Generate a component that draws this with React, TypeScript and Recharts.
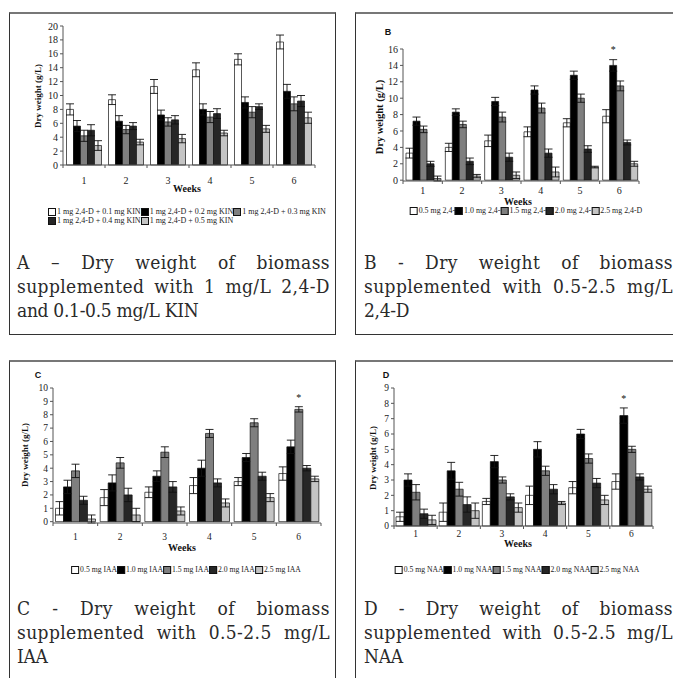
import { BarChart, Bar, XAxis, YAxis, ErrorBar, LabelList } from "recharts";

const weeks = ["1", "2", "3", "4", "5", "6"];
const fills = ["#ffffff", "#000000", "#7f7f7f", "#262626", "#c4c4c4"];

// A - 2,4-D + KIN
const kinNames = [
  "1 mg 2,4-D + 0.1 mg KIN",
  "1 mg 2,4-D + 0.2 mg KIN",
  "1 mg 2,4-D + 0.3 mg KIN",
  "1 mg 2,4-D + 0.4 mg KIN",
  "1 mg 2,4-D + 0.5 mg KIN",
];
const kinMeans = [
  [8.0, 9.4, 11.3, 13.7, 15.2, 17.7],
  [5.6, 6.3, 7.2, 8.0, 9.0, 10.6],
  [4.2, 5.1, 6.2, 6.9, 7.6, 8.8],
  [5.0, 5.6, 6.5, 7.4, 8.4, 9.2],
  [2.8, 3.3, 3.8, 4.6, 5.2, 6.8],
];
const kinErrors = [
  [0.8, 0.7, 1.0, 1.0, 0.8, 1.0],
  [0.8, 0.8, 0.7, 0.8, 0.8, 1.0],
  [0.8, 0.6, 0.6, 0.8, 0.8, 1.0],
  [0.8, 0.5, 0.6, 0.7, 0.4, 0.8],
  [0.7, 0.4, 0.6, 0.4, 0.5, 0.8],
];

// B - 2,4-D
const dNames = ["0.5 mg 2,4-", "1.0 mg 2,4-", "1.5 mg 2,4-", "2.0 mg 2,4-", "2.5 mg 2,4-D"];
const dMeans = [
  [3.3, 4.0, 4.8, 5.9, 7.0, 7.8],
  [7.2, 8.3, 9.6, 11.0, 12.8, 14.0],
  [6.2, 6.8, 7.7, 8.8, 10.0, 11.5],
  [2.0, 2.3, 2.8, 3.3, 3.8, 4.6],
  [0.2, 0.5, 0.6, 1.0, 1.6, 2.0],
];
const dErrors = [
  [0.6, 0.5, 0.7, 0.6, 0.5, 0.8],
  [0.5, 0.4, 0.5, 0.5, 0.5, 0.7],
  [0.4, 0.4, 0.6, 0.6, 0.5, 0.6],
  [0.3, 0.4, 0.5, 0.5, 0.4, 0.3],
  [0.3, 0.2, 0.4, 0.6, 0.1, 0.3],
];

// C - IAA
const iaaNames = ["0.5 mg IAA", "1.0 mg IAA", "1.5 mg IAA", "2.0 mg IAA", "2.5 mg IAA"];
const iaaMeans = [
  [1.0, 1.8, 2.2, 2.7, 3.0, 3.6],
  [2.6, 2.9, 3.4, 4.0, 4.8, 5.6],
  [3.8, 4.4, 5.2, 6.6, 7.4, 8.4],
  [1.6, 2.0, 2.6, 2.9, 3.4, 4.0],
  [0.2, 0.5, 0.8, 1.4, 1.8, 3.2],
];
const iaaErrors = [
  [0.5, 0.6, 0.4, 0.6, 0.3, 0.5],
  [0.5, 0.6, 0.4, 0.6, 0.3, 0.5],
  [0.5, 0.4, 0.4, 0.3, 0.3, 0.2],
  [0.3, 0.5, 0.4, 0.3, 0.3, 0.2],
  [0.3, 0.5, 0.3, 0.3, 0.3, 0.2],
];

// D - NAA
const naaNames = ["0.5 mg NAA", "1.0 mg NAA", "1.5 mg NAA", "2.0 mg NAA", "2.5 mg NAA"];
const naaMeans = [
  [0.6, 0.9, 1.6, 2.0, 2.5, 2.9],
  [3.0, 3.6, 4.2, 5.0, 6.0, 7.2],
  [2.2, 2.4, 3.0, 3.6, 4.4, 5.0],
  [0.8, 1.4, 1.9, 2.4, 2.8, 3.2],
  [0.4, 1.0, 1.2, 1.5, 1.7, 2.4],
];
const naaErrors = [
  [0.3, 0.6, 0.2, 0.6, 0.4, 0.5],
  [0.4, 0.55, 0.4, 0.5, 0.3, 0.5],
  [0.5, 0.45, 0.2, 0.3, 0.3, 0.2],
  [0.3, 0.5, 0.2, 0.3, 0.3, 0.2],
  [0.3, 0.5, 0.3, 0.1, 0.3, 0.2],
];

const kinTicks = [0, 2, 4, 6, 8, 10, 12, 14, 16, 18, 20];
const dTicks = [0, 2, 4, 6, 8, 10, 12, 14, 16];
const iaaTicks = [0, 1, 2, 3, 4, 5, 6, 7, 8, 9, 10];
const naaTicks = [0, 1, 2, 3, 4, 5, 6, 7, 8, 9];

const serif = "'Liberation Serif', 'Times New Roman', serif";
const sans = "'Liberation Sans', Arial, sans-serif";
const captionFont = "'DejaVu Serif Condensed', 'DejaVu Serif', serif";

function buildRows(means: number[][], errors: number[][]) {
  return weeks.map((w, i) => {
    const row: Record<string, any> = { week: w };
    means.forEach((m, s) => {
      row["s" + s] = m[i];
      row["e" + s] = errors[s][i];
    });
    return row;
  });
}

type PanelProps = {
  box: { l: number; t: number };
  plot: { x0: number; x1: number; y0: number; y1: number };
  rows: any[];
  ticks: number[];
  gap: number;
  tickDy: number;
  tickFont: number;
  star?: { series: number; gap: number };
};

function Chart({ box, plot, rows, ticks, gap, tickDy, tickFont, star }: PanelProps) {
  const width = plot.x1 - box.l + 15;
  const height = plot.y1 - box.t + 30;
  const band = (plot.x1 - plot.x0) / weeks.length;

  const renderTick = (props: any) => {
    const { x, y, payload, index } = props;
    return (
      <g>
        <text
          x={x}
          y={y + tickDy}
          textAnchor="middle"
          dominantBaseline="central"
          fontSize={tickFont}
          fontFamily={serif}
          fill="#222"
        >
          {payload.value}
        </text>
        <line x1={x + band / 2} x2={x + band / 2} y1={y} y2={y + 3} stroke="#555" />
        {index === 0 && <line x1={x - band / 2} x2={x - band / 2} y1={y} y2={y + 3} stroke="#555" />}
      </g>
    );
  };

  const renderStar = (props: any) => {
    if (!star || props.index !== weeks.length - 1) return null;
    return (
      <text
        x={props.x + props.width / 2}
        y={props.y - star.gap}
        textAnchor="middle"
        dominantBaseline="central"
        fontSize={10}
        fontFamily={serif}
        fill="#111"
      >
        *
      </text>
    );
  };

  return (
    <div style={{ position: "absolute", left: box.l, top: box.t }}>
      <BarChart
        width={width}
        height={height}
        data={rows}
        margin={{ top: plot.y0 - box.t, right: 15, bottom: 10, left: 0 }}
        barGap={0}
        barCategoryGap={gap}
      >
        <XAxis
          dataKey="week"
          height={20}
          tickLine={false}
          tickSize={0}
          tickMargin={0}
          interval={0}
          axisLine={{ stroke: "#555" }}
          tick={renderTick}
        />
        <YAxis
          width={plot.x0 - box.l}
          domain={[0, ticks[ticks.length - 1]]}
          ticks={ticks}
          interval={0}
          tickSize={3}
          tickMargin={2}
          axisLine={{ stroke: "#555" }}
          tickLine={{ stroke: "#555" }}
          tick={{ fontSize: tickFont, fontFamily: serif, fill: "#222" }}
        />
        {fills.map((f, s) => (
          <Bar key={s} dataKey={"s" + s} fill={f} stroke="#111" strokeWidth={0.7} isAnimationActive={false}>
            <ErrorBar dataKey={"e" + s} width={4} stroke="#111" strokeWidth={0.9} />
            {star && star.series === s && <LabelList dataKey={"s" + s} content={renderStar} />}
          </Bar>
        ))}
      </BarChart>
    </div>
  );
}

function Legend({ names, x, y, size, center }: { names: string[][]; x: number; y: number; size: number; center?: boolean }) {
  let k = 0;
  return (
    <div
      style={{
        position: "absolute",
        left: x,
        top: y,
        transform: center ? "translateX(-50%)" : undefined,
        fontFamily: serif,
        fontSize: size,
        color: "#222",
        whiteSpace: "nowrap",
        lineHeight: "9px",
      }}
    >
      {names.map((line, li) => (
        <div key={li} style={{ display: "flex", alignItems: "center" }}>
          {line.map((n) => {
            const f = fills[k++];
            return (
              <span key={n} style={{ display: "inline-flex", alignItems: "center" }}>
                <span
                  style={{
                    display: "inline-block",
                    width: 6,
                    height: 6,
                    background: f,
                    border: "1px solid #111",
                    marginRight: 1,
                  }}
                />
                {n}
              </span>
            );
          })}
        </div>
      ))}
    </div>
  );
}

function AbsText({ x, y, children, style }: { x: number; y: number; children: any; style?: any }) {
  return (
    <div
      style={{
        position: "absolute",
        left: x,
        top: y,
        transform: "translate(-50%, -50%)",
        whiteSpace: "nowrap",
        ...style,
      }}
    >
      {children}
    </div>
  );
}

function YTitle({ x, y, size }: { x: number; y: number; size: number }) {
  return (
    <AbsText
      x={x}
      y={y}
      style={{
        transform: "translate(-50%, -50%) rotate(-90deg)",
        fontFamily: serif,
        fontWeight: 700,
        fontSize: size,
        color: "#111",
      }}
    >
      Dry weight (g/L)
    </AbsText>
  );
}

function Weeks({ x, y }: { x: number; y: number }) {
  return (
    <AbsText x={x} y={y} style={{ fontFamily: serif, fontWeight: 700, fontSize: 10, color: "#111" }}>
      Weeks
    </AbsText>
  );
}

function Letter({ x, y, c }: { x: number; y: number; c: string }) {
  return (
    <AbsText x={x} y={y} style={{ fontFamily: sans, fontWeight: 700, fontSize: 9, color: "#111" }}>
      {c}
    </AbsText>
  );
}

function Caption({ x, top, width, lines }: { x: number; top: number; width: number; lines: string[] }) {
  return (
    <div
      style={{
        position: "absolute",
        left: x,
        top,
        width,
        fontFamily: captionFont,
        fontStretch: "condensed",
        fontSize: 19,
        color: "#2a2a2a",
        lineHeight: "24px",
      }}
    >
      {lines.map((l, i) =>
        i < lines.length - 1 ? (
          <div
            key={i}
            style={{ display: "flex", justifyContent: "space-between", whiteSpace: "nowrap", letterSpacing: 0.4 }}
          >
            {l.split(" ").map((w, j) => (
              <span key={j}>{w}</span>
            ))}
          </div>
        ) : (
          <div key={i} style={{ whiteSpace: "nowrap", letterSpacing: -0.3 }}>
            {l}
          </div>
        )
      )}
    </div>
  );
}

function Box({ l, t, w, h }: { l: number; t: number; w: number; h: number }) {
  return (
    <div
      style={{
        position: "absolute",
        left: l,
        top: t,
        width: w,
        height: h,
        boxSizing: "border-box",
        border: "1px solid #333",
        borderTop: "2px solid #777",
      }}
    />
  );
}

export default function App() {
  return (
    <div
      style={{
        position: "fixed",
        left: 0,
        top: 0,
        width: 673,
        height: 678,
        overflow: "hidden",
        background: "#fff",
      }}
    >
      <Box l={9} t={12} w={327} h={323} />
      <Box l={355} t={12} w={327} h={323} />
      <Box l={9} t={360} w={327} h={330} />
      <Box l={355} t={360} w={327} h={330} />

      {/* A */}
      <Chart
        box={{ l: 9, t: 12 }}
        plot={{ x0: 63, x1: 315, y0: 26, y1: 165 }}
        rows={buildRows(kinMeans, kinErrors)}
        ticks={kinTicks}
        gap={3.5}
        tickDy={15}
        tickFont={10}
      />
      <YTitle x={38} y={96} size={9} />
      <Weeks x={187} y={188} />
      <Legend names={[kinNames.slice(0, 3), kinNames.slice(3)]} x={48} y={207} size={8} />
      <Caption
        x={17}
        top={250}
        width={313}
        lines={["A – Dry weight of biomass", "supplemented with 1 mg/L 2,4-D", "and 0.1-0.5 mg/L KIN"]}
      />

      {/* B */}
      <Chart
        box={{ l: 355, t: 12 }}
        plot={{ x0: 403, x1: 639, y0: 49, y1: 181 }}
        rows={buildRows(dMeans, dErrors)}
        ticks={dTicks}
        gap={3}
        tickDy={9}
        tickFont={10}
        star={{ series: 1, gap: 16 }}
      />
      <Letter x={388} y={32} c="B" />
      <YTitle x={379} y={117} size={10.5} />
      <Weeks x={518} y={201} />
      <Legend names={[dNames]} x={526} y={206} size={7.9} center />
      <Caption x={364} top={250} width={309} lines={["B - Dry weight of biomass", "supplemented with 0.5-2.5 mg/L", "2,4-D"]} />

      {/* C */}
      <Chart
        box={{ l: 9, t: 360 }}
        plot={{ x0: 53, x1: 321, y0: 388, y1: 523 }}
        rows={buildRows(iaaMeans, iaaErrors)}
        ticks={iaaTicks}
        gap={2.5}
        tickDy={14}
        tickFont={9.5}
        star={{ series: 2, gap: 12 }}
      />
      <Letter x={38} y={375} c="C" />
      <YTitle x={25} y={455} size={9} />
      <Weeks x={182} y={547} />
      <Legend names={[iaaNames]} x={186} y={565} size={7.7} center />
      <Caption x={17} top={596} width={313} lines={["C - Dry weight of biomass", "supplemented with 0.5-2.5 mg/L", "IAA"]} />

      {/* D */}
      <Chart
        box={{ l: 355, t: 360 }}
        plot={{ x0: 394, x1: 653, y0: 388, y1: 526 }}
        rows={buildRows(naaMeans, naaErrors)}
        ticks={naaTicks}
        gap={2}
        tickDy={8}
        tickFont={9.5}
        star={{ series: 1, gap: 17 }}
      />
      <Letter x={386} y={375} c="D" />
      <YTitle x={373} y={458} size={9} />
      <Weeks x={518} y={543} />
      <Legend names={[naaNames]} x={517} y={565} size={7.7} center />
      <Caption x={364} top={596} width={309} lines={["D - Dry weight of biomass", "supplemented with 0.5-2.5 mg/L", "NAA"]} />
    </div>
  );
}
